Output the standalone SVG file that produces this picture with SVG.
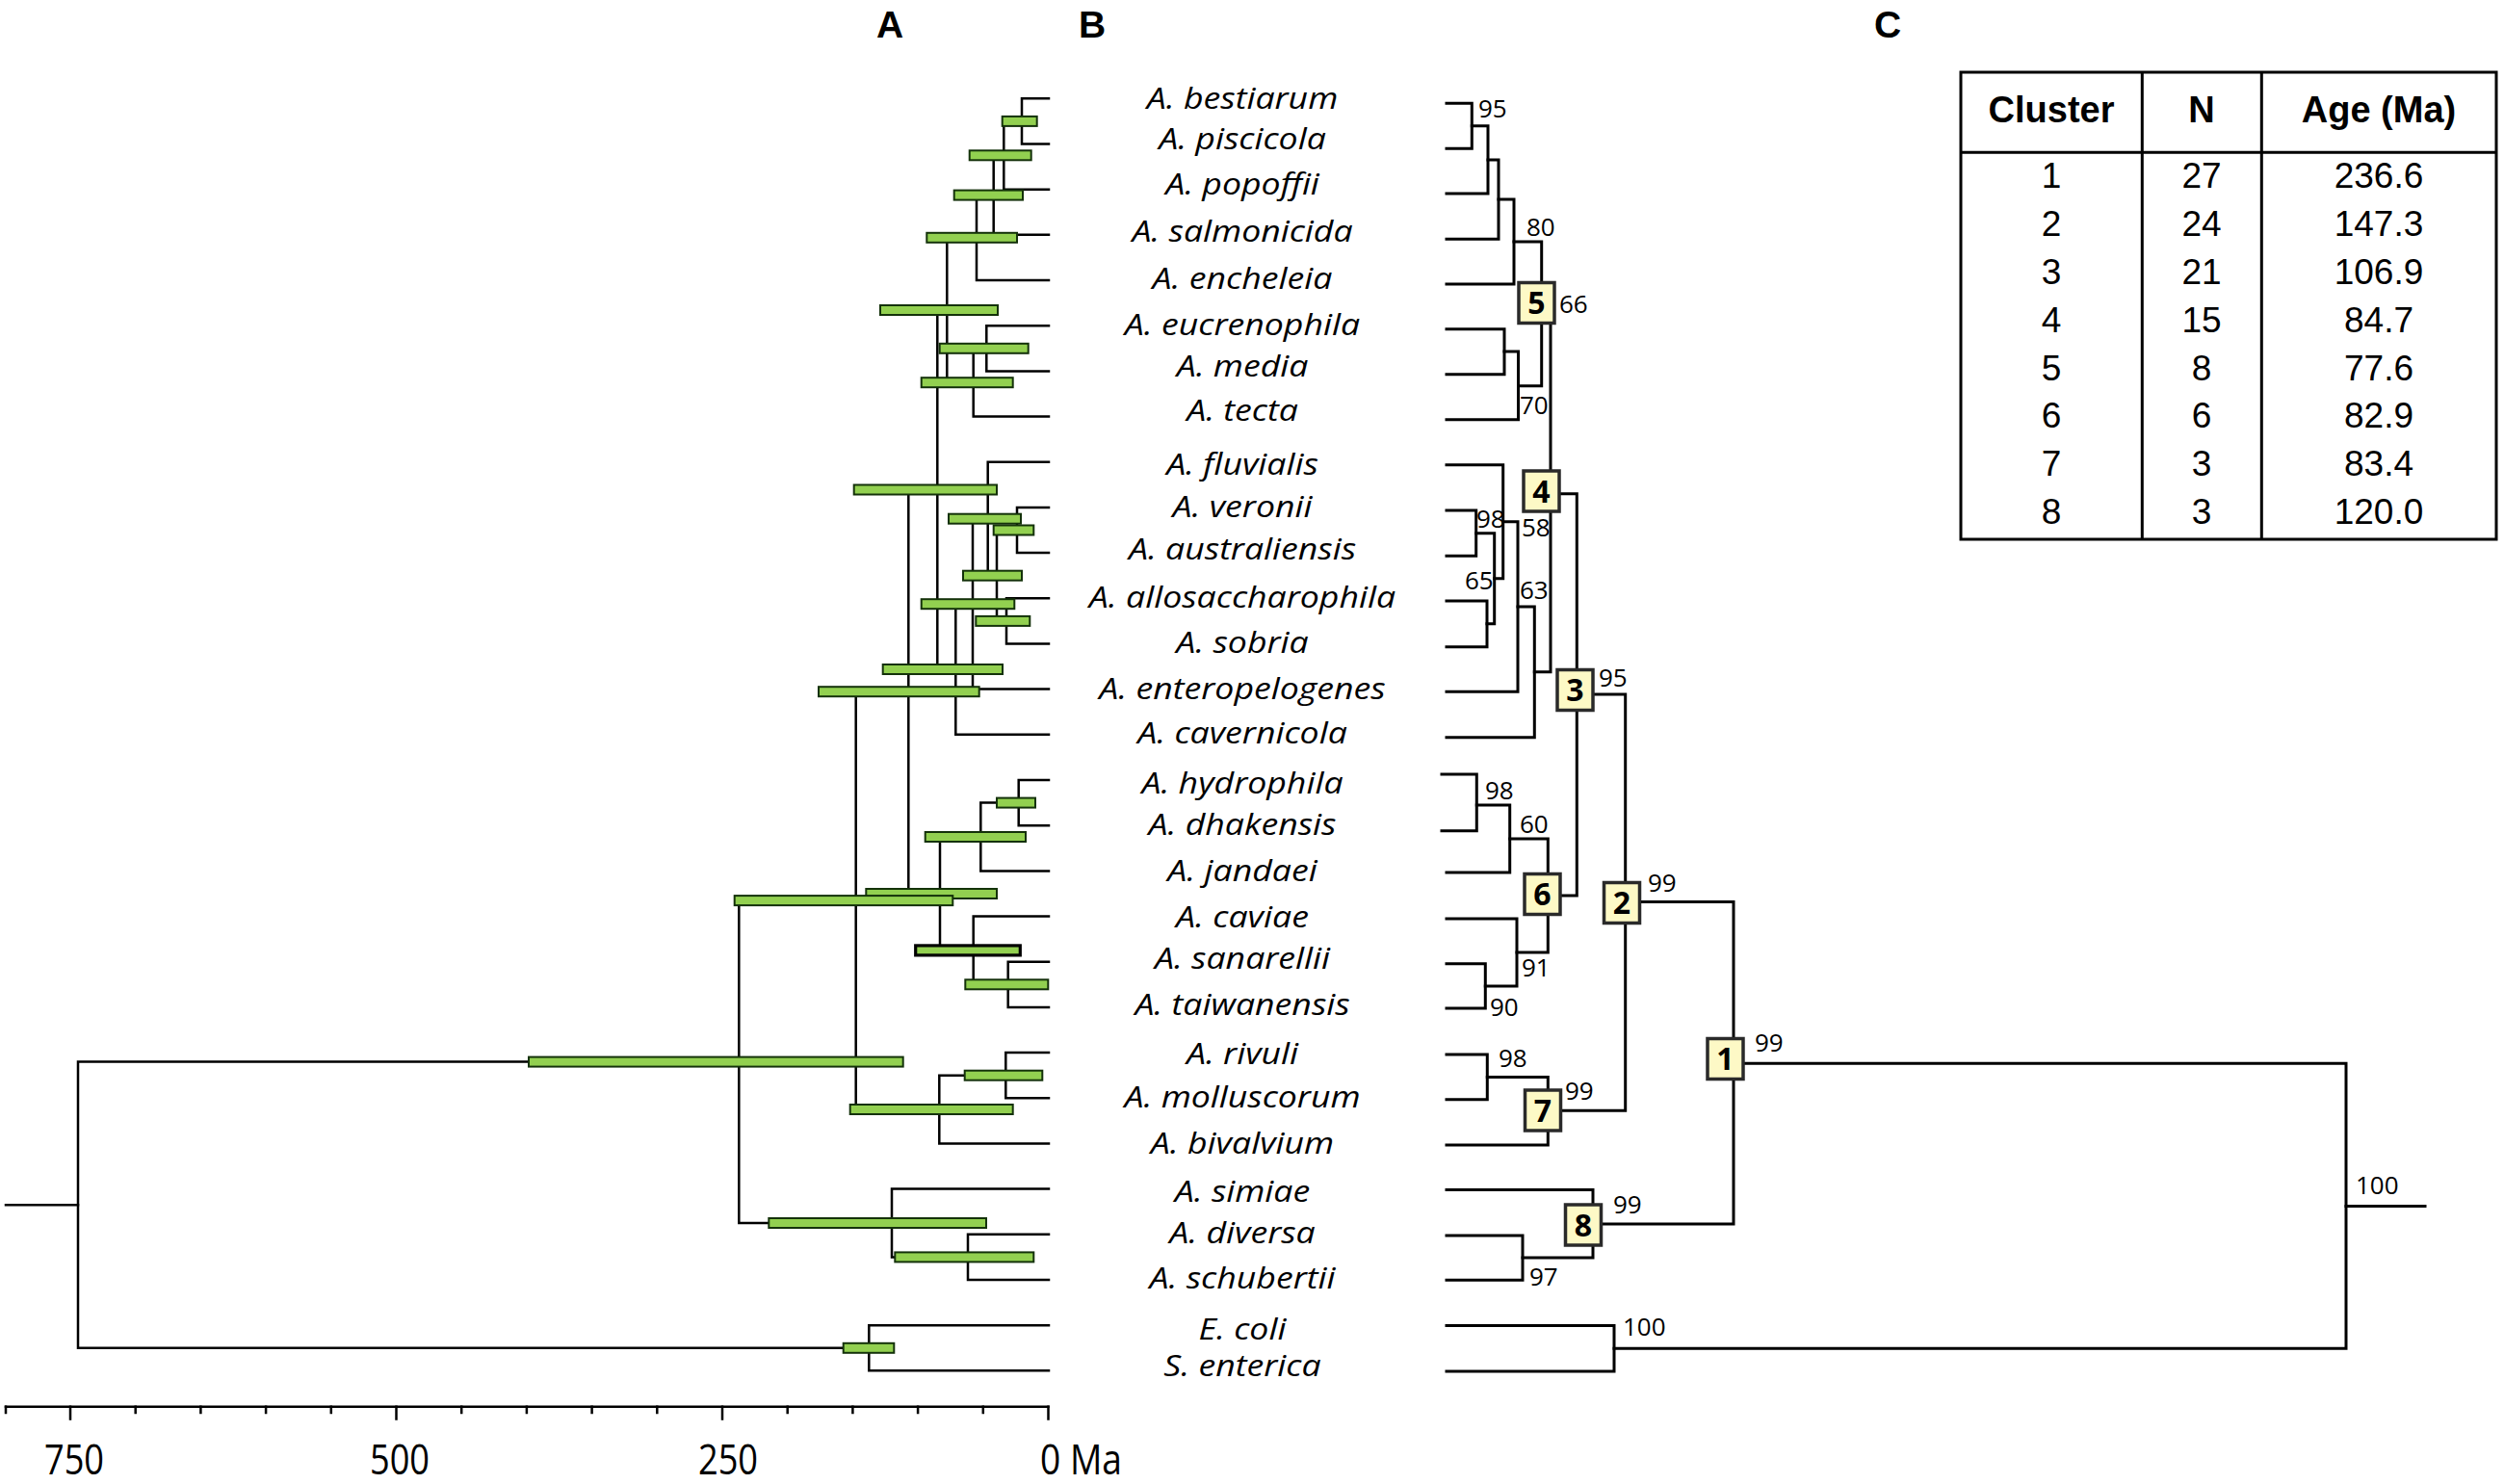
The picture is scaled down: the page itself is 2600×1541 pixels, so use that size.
<svg xmlns="http://www.w3.org/2000/svg" width="2600" height="1541" viewBox="0 0 2600 1541">
<style>
.ta{fill:none;stroke:#000;stroke-width:2.5;stroke-linecap:square}
.tb{fill:none;stroke:#000;stroke-width:3;stroke-linecap:square}
.bar{fill:#92d050;stroke:#14320a;stroke-width:2}
.box{fill:#fdf9c6;stroke:#2a2a2a;stroke-width:3.5}
.bn{font-family:"Open Sans","DejaVu Sans",sans-serif;font-weight:bold;font-size:32px;text-anchor:middle}
.bs{font-family:"Open Sans","DejaVu Sans",sans-serif;font-size:26px}
.sp{font-family:"Open Sans","DejaVu Sans",sans-serif;font-style:italic;font-size:31px;text-anchor:middle}
.ax{font-family:"Open Sans","DejaVu Sans",sans-serif;font-size:43px;text-anchor:middle}
.pl{font-family:"Liberation Sans",Arial,sans-serif;font-weight:bold;font-size:39px;text-anchor:middle}
.th{font-family:"Liberation Sans",Arial,sans-serif;font-weight:bold;font-size:38px;text-anchor:middle}
.tv{font-family:"Liberation Sans",Arial,sans-serif;font-size:37px;text-anchor:middle}
.tl{fill:none;stroke:#000;stroke-width:3}
</style>
<rect width="2600" height="1541" fill="#fff"/>
<g id="panel-labels">
<text class="pl" x="924" y="39">A</text>
<text class="pl" x="1134" y="39">B</text>
<text class="pl" x="1960" y="39">C</text>
</g>
<g id="connectors">
<g id="treeA-lines" class="ta">
<path d="M1089,102.3 H1061 V149.5 H1089"/>
<path d="M1061,125.9 H1042.3 V196.7 H1089"/>
<path d="M1042.3,161.3 H1031.7 V243.8 H1089"/>
<path d="M1031.7,202.6 H1014 V291 H1089"/>
<path d="M1089,338.2 H1024.3 V385.4 H1089"/>
<path d="M1024.3,361.8 H1010.7 V432.6 H1089"/>
<path d="M1014,246.8 H983.3 V397.2 H1010.7"/>
<path d="M1089,526.9 H1056 V574.1 H1089"/>
<path d="M1089,621.3 H1045 V668.5 H1089"/>
<path d="M1056,550.5 H1035 V644.9 H1045"/>
<path d="M1089,479.7 H1025.7 V597.7 H1035"/>
<path d="M1025.7,538.7 H1010 V715.6 H1089"/>
<path d="M1010,627.2 H992.3 V762.8 H1089"/>
<path d="M983.3,322 H973.3 V695 H992.3"/>
<path d="M1089,810 H1057.7 V857.2 H1089"/>
<path d="M1057.7,833.6 H1018.3 V904.4 H1089"/>
<path d="M1089,998.7 H1046.7 V1045.9 H1089"/>
<path d="M1089,951.5 H1010.7 V1022.3 H1046.7"/>
<path d="M1018.3,869 H976 V986.9 H1010.7"/>
<path d="M973.3,508.5 H943.3 V928 H976"/>
<path d="M1089,1093.1 H1044.3 V1140.3 H1089"/>
<path d="M1044.3,1116.7 H975.3 V1187.4 H1089"/>
<path d="M943.3,718.2 H888.7 V1152 H975.3"/>
<path d="M1089,1281.8 H1005 V1329 H1089"/>
<path d="M1089,1234.6 H926 V1305.4 H1005"/>
<path d="M888.7,935.1 H767.3 V1270 H926"/>
<path d="M1089,1376.2 H902.3 V1423.3 H1089"/>
<path d="M767.3,1102.6 H81 V1399.8 H902.3"/>
<path d="M6,1251.2 H81"/>
</g>
<g id="treeB-lines" class="tb">
<path d="M1502,107.3 H1528.3 V154.3 H1502"/>
<path d="M1528.3,130.8 H1545 V201 H1502"/>
<path d="M1545,166 H1556 V248.3 H1502"/>
<path d="M1556,207 H1572 V295 H1502"/>
<path d="M1502,341.7 H1562 V388.7 H1502"/>
<path d="M1562,365 H1576.5 V435.7 H1502"/>
<path d="M1572,251 H1600.7 V400.7 H1576.5"/>
<path d="M1502,530 H1532.7 V577.3 H1502"/>
<path d="M1502,624 H1544 V671.7 H1502"/>
<path d="M1532.7,553.7 H1551.7 V647.8 H1544"/>
<path d="M1502,482.7 H1560.7 V600.7 H1551.7"/>
<path d="M1560.7,541.7 H1576 V718.3 H1502"/>
<path d="M1576,630 H1593.3 V765.7 H1502"/>
<path d="M1600.7,325.7 H1610 V697.8 H1593.3"/>
<path d="M1497,804 H1533.3 V862.7 H1497"/>
<path d="M1533.3,836 H1567.7 V906 H1502"/>
<path d="M1502,1000.7 H1542.3 V1047 H1502"/>
<path d="M1502,954 H1575 V1024 H1542.3"/>
<path d="M1567.7,871 H1607.3 V989 H1575"/>
<path d="M1610,512.7 H1637.3 V930 H1607.3"/>
<path d="M1502,1095 H1544.3 V1141.8 H1502"/>
<path d="M1544.3,1118.4 H1607.3 V1189 H1502"/>
<path d="M1637.3,721 H1687.7 V1153.2 H1607.3"/>
<path d="M1502,1282.9 H1581 V1329.3 H1502"/>
<path d="M1502,1235.4 H1654 V1306 H1581"/>
<path d="M1687.7,936.4 H1800 V1271 H1654"/>
<path d="M1502,1376.4 H1676 V1424 H1502"/>
<path d="M1800,1104.3 H2436 V1400.2 H1676"/>
<path d="M2436,1252.5 H2518"/>
</g>
</g>
<g id="treeA-bars">
<rect class="bar" x="1040.7" y="120.9" width="36" height="10"/>
<rect class="bar" x="1006.7" y="156.3" width="64" height="10"/>
<rect class="bar" x="990.7" y="197.6" width="71.3" height="10"/>
<rect class="bar" x="962.3" y="241.8" width="93.7" height="10"/>
<rect class="bar" x="975.7" y="356.8" width="92" height="10"/>
<rect class="bar" x="956.7" y="392.2" width="95" height="10"/>
<rect class="bar" x="914" y="317" width="122" height="10"/>
<rect class="bar" x="1031.7" y="545.5" width="41.6" height="10"/>
<rect class="bar" x="1013.3" y="639.9" width="56" height="10"/>
<rect class="bar" x="1000" y="592.7" width="61" height="10"/>
<rect class="bar" x="985" y="533.7" width="75" height="10"/>
<rect class="bar" x="956.7" y="622.2" width="96.6" height="10"/>
<rect class="bar" x="916.7" y="690" width="124.3" height="10"/>
<rect class="bar" x="886.7" y="503.5" width="148.3" height="10"/>
<rect class="bar" x="1035" y="828.6" width="40" height="10"/>
<rect class="bar" x="960.7" y="864" width="104.3" height="10"/>
<rect class="bar" x="1002.3" y="1017.3" width="86" height="10"/>
<rect class="bar" x="950.7" y="981.9" width="108.6" height="10" style="stroke:#000;stroke-width:3.2"/>
<rect class="bar" x="899.3" y="923" width="135.7" height="10"/>
<rect class="bar" x="850" y="713.2" width="166.7" height="10"/>
<rect class="bar" x="1001.7" y="1111.7" width="80.6" height="10"/>
<rect class="bar" x="882.7" y="1147" width="169" height="10"/>
<rect class="bar" x="762.7" y="930.1" width="226.6" height="10"/>
<rect class="bar" x="929.3" y="1300.4" width="144" height="10"/>
<rect class="bar" x="798.3" y="1265" width="225.7" height="10"/>
<rect class="bar" x="549" y="1097.6" width="388.7" height="10"/>
<rect class="bar" x="875.7" y="1394.8" width="52.6" height="10"/>
</g>
<g id="axis">
<path class="ta" d="M6,1460.7 H1088.5"/>
<path class="ta" d="M73,1460.7 V1473.4 M411.5,1460.7 V1473.4 M750,1460.7 V1473.4 M1088.5,1460.7 V1473.4"/>
<path class="ta" d="M6,1460.7 V1467 M140.7,1460.7 V1467 M208.4,1460.7 V1467 M276.1,1460.7 V1467 M343.8,1460.7 V1467 M479.2,1460.7 V1467 M546.9,1460.7 V1467 M614.6,1460.7 V1467 M682.3,1460.7 V1467 M817.7,1460.7 V1467 M885.4,1460.7 V1467 M953.1,1460.7 V1467 M1020.8,1460.7 V1467"/>
<text class="ax" x="77" y="1531" textLength="62" lengthAdjust="spacingAndGlyphs">750</text>
<text class="ax" x="415" y="1531" textLength="62" lengthAdjust="spacingAndGlyphs">500</text>
<text class="ax" x="756" y="1531" textLength="62" lengthAdjust="spacingAndGlyphs">250</text>
<text class="ax" x="1080" y="1531" style="text-anchor:start" textLength="85" lengthAdjust="spacingAndGlyphs">0 Ma</text>
</g>
<g id="species-labels" transform="translate(1290 0) scale(1.15 1)">
<text class="sp" x="0" y="113">A. bestiarum</text>
<text class="sp" x="0" y="155">A. piscicola</text>
<text class="sp" x="0" y="202">A. popoffii</text>
<text class="sp" x="0" y="251">A. salmonicida</text>
<text class="sp" x="0" y="300">A. encheleia</text>
<text class="sp" x="0" y="348">A. eucrenophila</text>
<text class="sp" x="0" y="391">A. media</text>
<text class="sp" x="0" y="437">A. tecta</text>
<text class="sp" x="0" y="493">A. fluvialis</text>
<text class="sp" x="0" y="537">A. veronii</text>
<text class="sp" x="0" y="581.5">A. australiensis</text>
<text class="sp" x="0" y="631.5">A. allosaccharophila</text>
<text class="sp" x="0" y="678">A. sobria</text>
<text class="sp" x="0" y="726">A. enteropelogenes</text>
<text class="sp" x="0" y="772.5">A. cavernicola</text>
<text class="sp" x="0" y="824">A. hydrophila</text>
<text class="sp" x="0" y="867">A. dhakensis</text>
<text class="sp" x="0" y="915">A. jandaei</text>
<text class="sp" x="0" y="963">A. caviae</text>
<text class="sp" x="0" y="1006">A. sanarellii</text>
<text class="sp" x="0" y="1054.5">A. taiwanensis</text>
<text class="sp" x="0" y="1105.5">A. rivuli</text>
<text class="sp" x="0" y="1150.5">A. molluscorum</text>
<text class="sp" x="0" y="1198.5">A. bivalvium</text>
<text class="sp" x="0" y="1248.5">A. simiae</text>
<text class="sp" x="0" y="1291.5">A. diversa</text>
<text class="sp" x="0" y="1338">A. schubertii</text>
<text class="sp" x="0" y="1391">E. coli</text>
<text class="sp" x="0" y="1429">S. enterica</text>
</g>
<g id="bootstrap">
<text class="bs" x="1535" y="122">95</text>
<text class="bs" x="1585" y="245">80</text>
<text class="bs" x="1619" y="325">66</text>
<text class="bs" x="1578" y="430">70</text>
<text class="bs" x="1533" y="548">98</text>
<text class="bs" x="1580" y="557">58</text>
<text class="bs" x="1521" y="612">65</text>
<text class="bs" x="1578" y="622">63</text>
<text class="bs" x="1660" y="713">95</text>
<text class="bs" x="1542" y="830">98</text>
<text class="bs" x="1578" y="865">60</text>
<text class="bs" x="1711" y="926">99</text>
<text class="bs" x="1580" y="1014">91</text>
<text class="bs" x="1547" y="1055">90</text>
<text class="bs" x="1822" y="1092">99</text>
<text class="bs" x="1556" y="1108">98</text>
<text class="bs" x="1625" y="1142">99</text>
<text class="bs" x="2446" y="1240">100</text>
<text class="bs" x="1675" y="1260">99</text>
<text class="bs" x="1588" y="1335">97</text>
<text class="bs" x="1685" y="1387">100</text>
</g>
<g id="cluster-5"><rect class="box" x="1577" y="293.5" width="37" height="42"/><text class="bn" x="1595.5" y="326">5</text></g>
<g id="cluster-4"><rect class="box" x="1582" y="489" width="37" height="42"/><text class="bn" x="1600.5" y="521.5">4</text></g>
<g id="cluster-3"><rect class="box" x="1617" y="695.5" width="37" height="42"/><text class="bn" x="1635.5" y="728">3</text></g>
<g id="cluster-6"><rect class="box" x="1583" y="907.5" width="37" height="42"/><text class="bn" x="1601.5" y="940">6</text></g>
<g id="cluster-2"><rect class="box" x="1665.5" y="916.5" width="37" height="42"/><text class="bn" x="1684" y="949">2</text></g>
<g id="cluster-7"><rect class="box" x="1583.5" y="1132" width="37" height="42"/><text class="bn" x="1602" y="1164.5">7</text></g>
<g id="cluster-8"><rect class="box" x="1625.5" y="1251" width="37" height="42"/><text class="bn" x="1644" y="1283.5">8</text></g>
<g id="cluster-1"><rect class="box" x="1773" y="1078.5" width="37" height="42"/><text class="bn" x="1791.5" y="1111">1</text></g>
<g id="table">
<rect class="tl" x="2036" y="75" width="556" height="485"/>
<path class="tl" d="M2224.3,75 V560 M2348.3,75 V560 M2036,158.3 H2592"/>
<text class="th" x="2130" y="126.7">Cluster</text>
<text class="th" x="2286" y="126.7">N</text>
<text class="th" x="2470" y="126.7">Age (Ma)</text>
<g class="tv">
<text x="2130" y="195">1</text><text x="2286" y="195">27</text><text x="2470" y="195">236.6</text>
<text x="2130" y="245">2</text><text x="2286" y="245">24</text><text x="2470" y="245">147.3</text>
<text x="2130" y="295">3</text><text x="2286" y="295">21</text><text x="2470" y="295">106.9</text>
<text x="2130" y="345">4</text><text x="2286" y="345">15</text><text x="2470" y="345">84.7</text>
<text x="2130" y="395">5</text><text x="2286" y="395">8</text><text x="2470" y="395">77.6</text>
<text x="2130" y="444">6</text><text x="2286" y="444">6</text><text x="2470" y="444">82.9</text>
<text x="2130" y="494">7</text><text x="2286" y="494">3</text><text x="2470" y="494">83.4</text>
<text x="2130" y="544">8</text><text x="2286" y="544">3</text><text x="2470" y="544">120.0</text>
</g>
</g>
</svg>
